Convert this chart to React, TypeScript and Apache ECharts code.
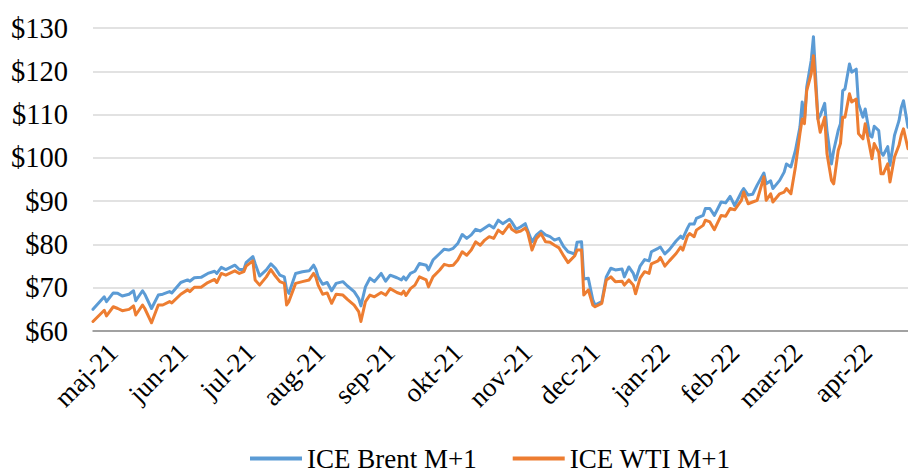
import React, { useEffect, useRef } from "react";
import * as echarts from "echarts";

const dates = [
  "2021-04-22","2021-04-27","2021-04-28","2021-05-01","2021-05-03","2021-05-05","2021-05-08","2021-05-10","2021-05-11","2021-05-14",
  "2021-05-15","2021-05-18","2021-05-21","2021-05-23","2021-05-26","2021-05-27","2021-05-31","2021-06-03","2021-06-04","2021-06-06",
  "2021-06-09","2021-06-12","2021-06-15","2021-06-16","2021-06-18","2021-06-20","2021-06-24","2021-06-26","2021-06-28","2021-06-29",
  "2021-07-02","2021-07-03","2021-07-05","2021-07-08","2021-07-10","2021-07-12","2021-07-14","2021-07-16","2021-07-17","2021-07-18",
  "2021-07-21","2021-07-24","2021-07-27","2021-07-29","2021-07-30","2021-07-31","2021-08-02","2021-08-04","2021-08-06","2021-08-08",
  "2021-08-11","2021-08-13","2021-08-16","2021-08-18","2021-08-19","2021-08-21","2021-08-23","2021-08-25","2021-08-28","2021-08-30",
  "2021-09-01","2021-09-04","2021-09-06","2021-09-07","2021-09-08","2021-09-10","2021-09-12","2021-09-14","2021-09-17","2021-09-18",
  "2021-09-20","2021-09-23","2021-09-25","2021-09-27","2021-09-29","2021-10-01","2021-10-03","2021-10-05","2021-10-07","2021-10-09",
  "2021-10-11","2021-10-13","2021-10-15","2021-10-17","2021-10-19","2021-10-21","2021-10-24","2021-10-25","2021-10-27","2021-10-29",
  "2021-10-31","2021-11-01","2021-11-03","2021-11-05","2021-11-07","2021-11-09","2021-11-11","2021-11-13","2021-11-15","2021-11-17",
  "2021-11-19","2021-11-22","2021-11-23","2021-11-25","2021-11-26","2021-11-28","2021-11-30","2021-12-01","2021-12-04","2021-12-06",
  "2021-12-08","2021-12-10","2021-12-13","2021-12-14","2021-12-16","2021-12-18","2021-12-19","2021-12-21","2021-12-23","2021-12-25",
  "2021-12-26","2021-12-29","2021-12-30","2022-01-01","2022-01-03","2022-01-06","2022-01-08","2022-01-09","2022-01-11","2022-01-12",
  "2022-01-14","2022-01-15","2022-01-18","2022-01-19","2022-01-21","2022-01-23","2022-01-26","2022-01-28","2022-01-30","2022-02-01",
  "2022-02-04","2022-02-05","2022-02-07","2022-02-09","2022-02-11","2022-02-14","2022-02-15","2022-02-17","2022-02-18","2022-02-21",
  "2022-02-23","2022-02-24","2022-02-26","2022-02-28","2022-03-02","2022-03-03","2022-03-04","2022-03-05","2022-03-07","2022-03-08",
  "2022-03-10","2022-03-11","2022-03-13","2022-03-14","2022-03-16","2022-03-17","2022-03-19","2022-03-20","2022-03-21","2022-03-22",
  "2022-03-24","2022-03-25","2022-03-27","2022-03-28","2022-03-30","2022-03-31","2022-04-02","2022-04-03","2022-04-04","2022-04-06",
  "2022-04-07","2022-04-08","2022-04-10","2022-04-11","2022-04-13","2022-04-15","2022-04-16","2022-04-17","2022-04-19",
];

const brent = [
  65.0,67.9,66.8,68.8,68.7,68.1,68.5,69.3,67.0,69.3,
  68.5,65.2,68.3,68.5,69.1,68.8,71.2,71.8,71.5,72.3,
  72.4,73.3,73.8,73.3,74.7,74.2,75.2,74.2,74.2,75.8,
  77.2,75.6,72.7,74.1,75.5,74.5,72.9,72.5,69.6,68.7,
  73.3,73.7,73.9,75.2,74.2,72.5,70.8,71.2,69.3,71.0,
  71.4,70.4,69.1,67.5,65.8,70.2,72.2,71.4,73.3,71.5,
  72.9,72.3,71.8,72.5,71.8,73.3,73.8,75.6,75.2,74.1,
  76.4,77.9,78.9,78.7,79.1,80.2,82.3,81.4,82.2,83.5,
  83.1,83.8,84.5,83.8,85.6,84.8,85.8,85.2,83.5,84.1,
  84.8,83.3,80.6,82.2,83.1,82.2,81.8,81.0,81.4,79.5,
  78.3,77.8,80.5,80.6,72.0,72.2,67.2,66.0,66.8,72.5,
  74.5,74.1,74.3,72.5,74.8,73.3,71.8,75.0,76.5,76.2,
  78.3,79.1,79.4,77.8,78.8,80.8,81.9,81.4,83.7,84.7,
  84.7,86.0,86.7,88.3,88.3,86.7,89.8,89.6,91.1,89.0,
  92.1,92.9,91.4,91.6,93.7,96.5,94.0,94.7,92.9,94.8,
  96.7,98.6,97.9,101.7,107.1,112.9,108.6,116.3,122.5,128.0,
  109.0,109.8,112.6,106.3,98.6,101.7,106.3,107.9,115.5,115.9,
  121.7,119.8,120.5,112.5,109.4,111.3,105.2,104.8,107.3,106.3,
  101.3,100.6,102.6,98.3,105.2,108.6,111.6,113.2,107.1,
];

const wti = [
  62.2,64.8,63.5,65.6,65.2,64.7,65.0,65.8,63.7,66.0,
  65.2,61.9,66.0,66.0,66.8,66.5,68.5,69.5,69.1,70.1,
  70.1,71.2,71.9,71.2,73.3,72.9,73.9,73.3,73.7,75.0,
  76.2,71.8,70.6,72.5,74.2,72.7,71.4,71.0,66.0,66.8,
  71.0,71.4,71.8,73.3,72.4,70.6,68.5,68.8,66.4,68.5,
  68.3,67.3,66.0,64.5,62.2,66.8,68.3,67.9,68.9,68.3,
  69.8,68.9,68.5,69.2,68.2,69.8,70.6,72.5,71.8,70.2,
  72.5,74.1,75.4,75.1,75.2,76.4,78.3,77.5,78.7,80.6,
  79.8,81.0,81.8,81.4,83.3,82.5,84.6,83.5,82.8,83.1,
  83.8,82.9,78.7,81.4,82.5,80.6,80.5,79.8,79.2,77.4,
  75.8,77.4,78.7,78.7,68.3,69.5,66.0,65.6,66.4,71.8,
  72.5,71.4,71.5,70.6,71.8,70.6,68.6,72.2,73.7,73.3,
  75.5,76.2,77.0,75.0,76.2,77.9,79.4,78.7,81.9,82.5,
  81.8,83.3,84.4,85.6,85.2,83.4,86.7,86.5,88.3,88.0,
  90.2,92.1,89.4,89.8,90.2,95.6,90.2,91.7,89.8,91.7,
  92.1,92.9,91.7,97.9,105.6,109.0,107.9,115.5,119.4,123.6,
  109.0,105.9,109.4,101.0,94.8,94.0,101.7,103.3,109.4,109.4,
  114.8,112.9,113.6,105.6,104.4,107.9,102.5,99.8,103.3,101.3,
  96.3,96.3,98.6,94.4,100.2,102.9,105.2,106.7,102.1,
];

const monthTicks = [
  "2021-05-01","2021-06-01","2021-07-01","2021-08-01","2021-09-01","2021-10-01",
  "2021-11-01","2021-12-01","2022-01-01","2022-02-01","2022-03-01","2022-04-01",
];
const monthNames = ["jan","feb","mar","apr","maj","jun","jul","aug","sep","okt","nov","dec"];
const seriesNames = ["ICE Brent M+1", "ICE WTI M+1"];

const DAY = 86400000;
const START = Date.parse(dates[0]);
const toDay = (s: string) => Math.round((Date.parse(s) - START) / DAY);
const FONT = "'Liberation Serif', 'Times New Roman', serif";

export default function App() {
  const ref = useRef<HTMLDivElement>(null);
  useEffect(() => {
    document.body.style.margin = "0";
    const chart = echarts.init(ref.current!, undefined, { renderer: "svg" });
    chart.setOption({
      animation: false,
      textStyle: { fontFamily: FONT },
      grid: { left: 93, right: 0, top: 28, bottom: 141, outerBoundsMode: "none" },
      legend: {
        left: 245,
        top: 440,
        icon: "rect",
        itemWidth: 52,
        itemHeight: 4,
        itemGap: 36,
        textStyle: { fontFamily: FONT, fontSize: 27, color: "#000" },
        data: seriesNames,
      },
      xAxis: {
        type: "value",
        min: 0,
        max: toDay(dates[dates.length - 1]),
        splitLine: { show: false },
        axisTick: { show: false },
        axisLine: { show: true, lineStyle: { color: "#8c8c8c", width: 1.5 } },
        axisLabel: {
          customValues: monthTicks.map(toDay),
          rotate: 45,
          margin: 17,
          fontFamily: FONT,
          fontSize: 27,
          color: "#000",
          formatter: (v: number) => {
            const d = new Date(START + v * DAY);
            return monthNames[d.getUTCMonth()] + "-" + String(d.getUTCFullYear()).slice(2);
          },
        },
      },
      yAxis: {
        type: "value",
        min: 60,
        max: 130,
        interval: 10,
        axisLine: { show: false },
        axisTick: { show: false },
        splitLine: { lineStyle: { color: "#d9d9d9", width: 1.5 } },
        axisLabel: {
          margin: 25,
          fontFamily: FONT,
          fontSize: 28.5,
          color: "#000",
          formatter: (v: number) => "$" + v,
        },
      },
      series: [
        {
          name: seriesNames[0],
          type: "line",
          showSymbol: false,
          color: "#5b9bd5",
          lineStyle: { width: 3, color: "#5b9bd5", cap: "round", join: "round" },
          data: dates.map((d, i) => [toDay(d), brent[i]]),
        },
        {
          name: seriesNames[1],
          type: "line",
          showSymbol: false,
          color: "#ed7d31",
          lineStyle: { width: 3, color: "#ed7d31", cap: "round", join: "round" },
          data: dates.map((d, i) => [toDay(d), wti[i]]),
        },
      ],
    });
    return () => chart.dispose();
  }, []);
  return <div ref={ref} style={{ width: 908, height: 472 }} />;
}
